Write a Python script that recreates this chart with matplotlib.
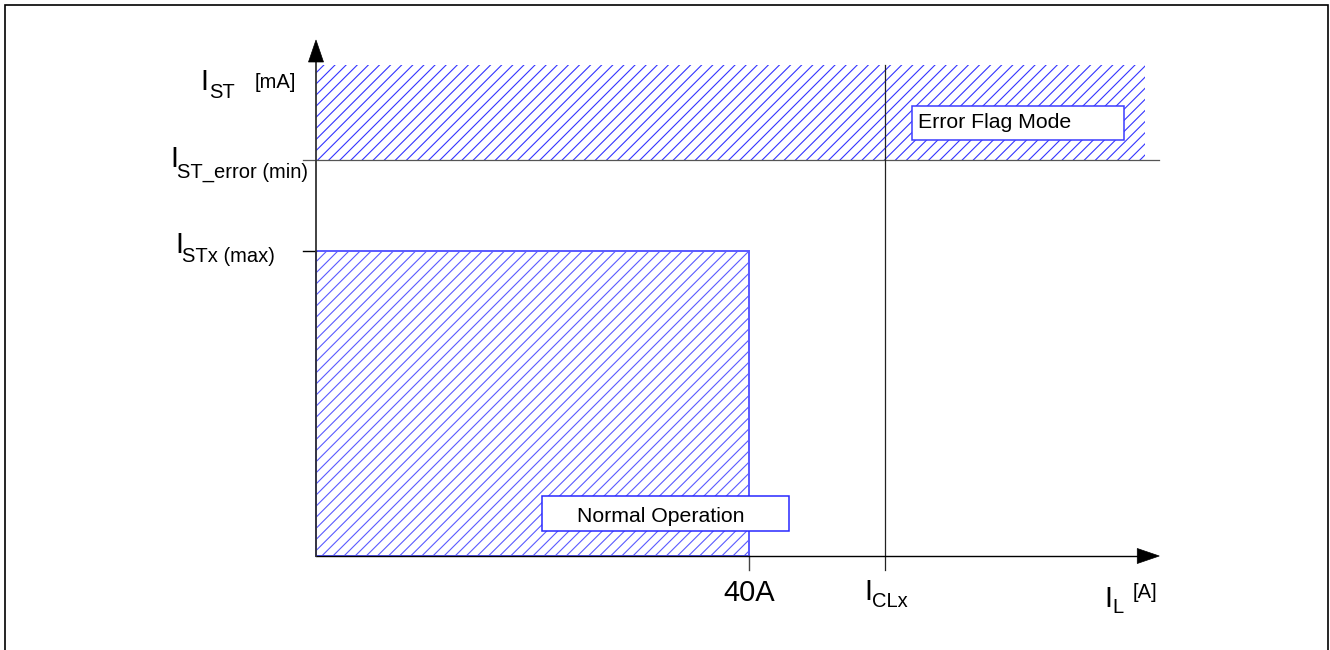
import matplotlib
matplotlib.use('Agg')
import matplotlib.pyplot as plt
from matplotlib.patches import Rectangle, Polygon

plt.rcParams['font.family'] = ['Liberation Sans', 'DejaVu Sans']
plt.rcParams['hatch.linewidth'] = 0.8

# diagram values (x in A, y in arbitrary mA units)
normal_x = [0.0, 40.0]          # normal operation region, x span
normal_y = [0.0, 6.1]           # up to I_STx(max)
error_x = [0.0, 76.6]           # error flag region, x span
error_y = [7.92, 9.82]          # from I_ST_error(min) up
i_clx = 52.56
x_axis_end = 77.9
y_axis_end = 10.32
y_tick_levels = [6.1, 7.92]

# pixel scale of the sketch (origin at 316, 556 px)
SX = 10.825
SY = 50.0
OX = 316
OY = 556


def to_data(px, py):
    return (px - OX) / SX, (OY - py) / SY


fig = plt.figure(figsize=(13.3, 6.5), dpi=100)
ax = fig.add_axes([0, 0, 1, 1])
ax.set_xlim(-OX / SX, (1330 - OX) / SX)
ax.set_ylim((OY - 650) / SY, OY / SY)
ax.axis('off')

hatch_col = '#3434ff'

# hatched regions
ax.add_patch(Rectangle((error_x[0], error_y[0]), error_x[1] - error_x[0],
                       error_y[1] - error_y[0], facecolor='white',
                       edgecolor=hatch_col, linewidth=0, hatch='///', zorder=1))
ax.add_patch(Rectangle((normal_x[0], normal_y[0]), normal_x[1] - normal_x[0],
                       normal_y[1] - normal_y[0], facecolor='white',
                       edgecolor='#5a5aff', linewidth=1.4, hatch='///', zorder=1))

# helper lines
tick_len_x = 13 / SX
tick_len_y = 14 / SY
ax.plot([-tick_len_x, x_axis_end], [y_tick_levels[1]] * 2, color='#555555', lw=0.9, zorder=2)
ax.plot([i_clx, i_clx], [-tick_len_y, error_y[1]], color='#222222', lw=0.9, zorder=2)
ax.plot([-tick_len_x, 0], [y_tick_levels[0]] * 2, color='black', lw=1.0, zorder=3)
ax.plot([normal_x[1], normal_x[1]], [-tick_len_y, 0], color='#444444', lw=1.0, zorder=3)

# axes with arrows
head_x = 22 / SX
half_x = 7.5 / SY
head_y = 22 / SY
half_y = 7.5 / SX
ax.plot([0, x_axis_end - head_x], [0, 0], color='black', lw=1.0, zorder=4)
ax.plot([0, 0], [0, y_axis_end - head_y], color='#333333', lw=1.3, zorder=4)
ax.add_patch(Polygon([(x_axis_end, 0), (x_axis_end - head_x, half_x),
                      (x_axis_end - head_x, -half_x)], closed=True,
                     facecolor='black', edgecolor='black', lw=0.5, zorder=4))
ax.add_patch(Polygon([(0, y_axis_end), (-half_y, y_axis_end - head_y),
                      (half_y, y_axis_end - head_y)], closed=True,
                     facecolor='black', edgecolor='black', lw=0.5, zorder=4))

BIG = 21
SMALL = 14.5


def put(text, xy, off, size, ha='left'):
    ax.annotate(text, xy=xy, xytext=off, textcoords='offset pixels',
                fontsize=size, ha=ha, va='baseline', color='black', zorder=6)


# y labels
put('I', (0, error_y[1]), (-116, -25), BIG)
put('ST', (0, error_y[1]), (-107, -33), SMALL)
put('[mA]', (0, error_y[1]), (-61, -23), SMALL)
put('I', (0, y_tick_levels[1]), (-146, -7), BIG)
put('ST_error (min)', (0, y_tick_levels[1]), (-139, -18), SMALL)
put('I', (0, y_tick_levels[0]), (-141, -2), BIG)
put('STx (max)', (0, y_tick_levels[0]), (-134, -11), SMALL)

# x labels
put('40A', (normal_x[1], 0), (0, -45), BIG, ha='center')
put('I', (i_clx, 0), (-21, -44), BIG)
put('CLx', (i_clx, 0), (-13, -51), SMALL)
put('I', (x_axis_end, 0), (-55, -51), BIG)
put('L', (x_axis_end, 0), (-47, -57), SMALL)
put('[A]', (x_axis_end, 0), (-27, -42), SMALL)

# mode boxes
x0, y1 = to_data(912, 106)
x1, y0 = to_data(1124, 140)
ax.add_patch(Rectangle((x0, y0), x1 - x0, y1 - y0, facecolor='white',
                       edgecolor='#3c3cff', lw=1.1, zorder=5))
tx, ty = to_data(918, 128)
ax.text(tx, ty, 'Error Flag Mode', fontsize=15.3, ha='left', va='baseline', zorder=6)

x0, y1 = to_data(542, 496)
x1, y0 = to_data(789, 531)
ax.add_patch(Rectangle((x0, y0), x1 - x0, y1 - y0, facecolor='white',
                       edgecolor='#2828ff', lw=1.1, zorder=5))
tx, ty = to_data(577, 522)
ax.text(tx, ty, 'Normal Operation', fontsize=15.3, ha='left', va='baseline', zorder=6)

# outer frame
fig.patches.append(Rectangle((5 / 1330, -0.05), 1323 / 1330, 645 / 650 + 0.05,
                             transform=fig.transFigure, fill=False,
                             edgecolor='black', lw=1.2))

fig.savefig('out.png', dpi=100)
